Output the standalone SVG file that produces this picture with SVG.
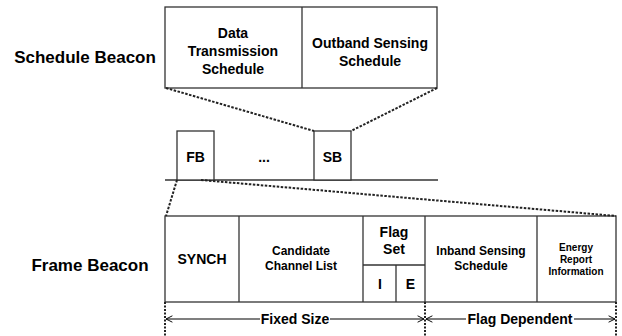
<svg xmlns="http://www.w3.org/2000/svg" width="622" height="336" viewBox="0 0 622 336">
<style>
text{font-family:"Liberation Sans",Arial,sans-serif;font-weight:bold;fill:#000;text-anchor:middle}
.box{fill:#fff;stroke:#333;stroke-width:1.3}
.ln{stroke:#333;stroke-width:1.3;fill:none}
.dash{stroke:#222;stroke-width:2;stroke-dasharray:2.5 1.5;fill:none}
.dot{stroke:#222;stroke-width:2;stroke-dasharray:2 1.5;fill:none}
.arr{stroke:#000;stroke-width:1.2;fill:none}
</style>
<defs>
<marker id="ah" viewBox="0 0 10 10" refX="9" refY="5" markerWidth="8" markerHeight="8" orient="auto-start-reverse" markerUnits="userSpaceOnUse">
<path d="M1,1 L9,5 L1,9" fill="none" stroke="#000" stroke-width="1.2"/>
</marker>
</defs>
<g id="labels">
<text x="85" y="63" font-size="17">Schedule Beacon</text>
<text x="90" y="271" font-size="17">Frame Beacon</text>
</g>
<g id="schedule-beacon">
<rect class="box" x="165" y="7" width="272" height="81"/>
<line class="ln" x1="302" y1="7" x2="302" y2="88"/>
<text font-size="14"><tspan x="233" y="38">Data</tspan><tspan x="233" y="56">Transmission</tspan><tspan x="233" y="74">Schedule</tspan></text>
<text font-size="14"><tspan x="370" y="48">Outband Sensing</tspan><tspan x="370" y="66">Schedule</tspan></text>
</g>
<g id="frame-sequence">
<line class="ln" x1="165" y1="180" x2="438" y2="180"/>
<g id="fb"><rect class="box" x="177" y="131" width="37" height="49"/><text x="195.5" y="162" font-size="14">FB</text></g>
<text x="264" y="162" font-size="14">...</text>
<g id="sb"><rect class="box" x="314" y="131" width="37" height="49"/><text x="332.5" y="162" font-size="14">SB</text></g>
</g>
<g id="frame-beacon">
<rect class="box" x="165" y="216" width="451" height="86"/>
<line class="ln" x1="239" y1="216" x2="239" y2="302"/>
<line class="ln" x1="363" y1="216" x2="363" y2="302"/>
<line class="ln" x1="425" y1="216" x2="425" y2="302"/>
<line class="ln" x1="537" y1="216" x2="537" y2="302"/>
<line class="ln" x1="363" y1="265" x2="425" y2="265"/>
<line class="ln" x1="396" y1="265" x2="396" y2="302"/>
<text x="202" y="264" font-size="14">SYNCH</text>
<text font-size="12"><tspan x="301" y="255">Candidate</tspan><tspan x="301" y="270">Channel List</tspan></text>
<text font-size="14"><tspan x="394" y="237">Flag</tspan><tspan x="394" y="254">Set</tspan></text>
<text x="380" y="289" font-size="14">I</text>
<text x="410.5" y="289" font-size="14">E</text>
<text font-size="12"><tspan x="481" y="255">Inband Sensing</tspan><tspan x="481" y="270">Schedule</tspan></text>
<text font-size="10"><tspan x="576" y="251">Energy</tspan><tspan x="576" y="263">Report</tspan><tspan x="576" y="275">Information</tspan></text>
</g>
<g id="connectors">
<line class="dash" x1="166" y1="88" x2="314" y2="131"/>
<line class="dash" x1="437" y1="88" x2="351" y2="131"/>
<line class="dash" x1="177" y1="180" x2="166" y2="216"/>
<line class="dash" x1="201" y1="180" x2="616" y2="216"/>
<line class="dot" x1="165" y1="302" x2="165" y2="336"/>
<line class="dot" x1="425" y1="302" x2="425" y2="336"/>
<line class="dot" x1="616" y1="302" x2="616" y2="336"/>
<line class="arr" x1="166" y1="319" x2="260" y2="319" marker-start="url(#ah)"/>
<line class="arr" x1="330" y1="319" x2="424" y2="319" marker-end="url(#ah)"/>
<line class="arr" x1="426" y1="319" x2="466" y2="319" marker-start="url(#ah)"/>
<line class="arr" x1="574" y1="319" x2="615" y2="319" marker-end="url(#ah)"/>
<text x="295" y="324" font-size="14">Fixed Size</text>
<text x="520" y="324" font-size="14">Flag Dependent</text>
</g>
</svg>
